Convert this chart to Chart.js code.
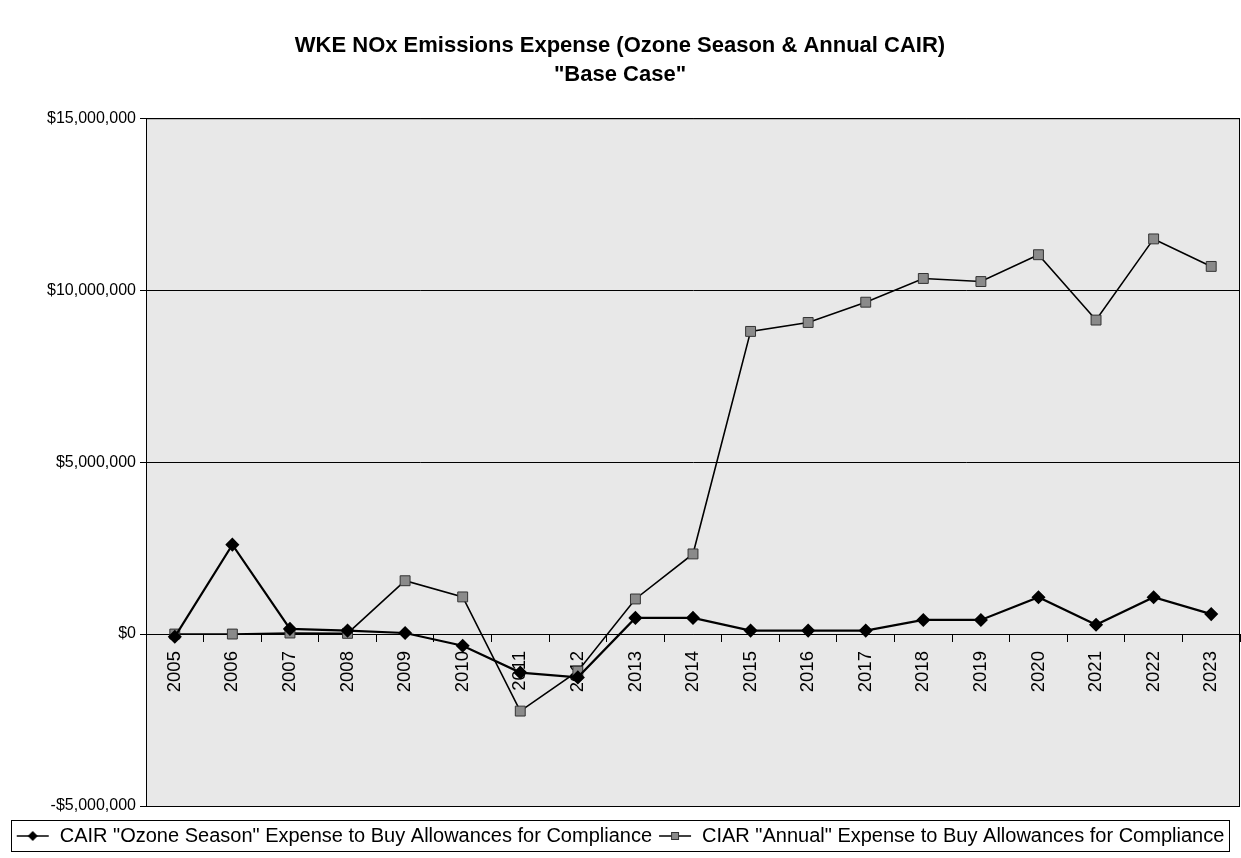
<!DOCTYPE html>
<html>
<head>
<meta charset="utf-8">
<script src="https://cdn.jsdelivr.net/npm/chart.js@4.4.1/dist/chart.umd.min.js"></script>
<style>
  html, body { margin: 0; padding: 0; background: #fff; }
</style>
</head>
<body>
<canvas id="chart" width="1241" height="858"></canvas>
<script>
// data
const years = ['2005', '2006', '2007', '2008', '2009', '2010', '2011', '2012', '2013', '2014',
               '2015', '2016', '2017', '2018', '2019', '2020', '2021', '2022', '2023'];
const ozoneSeason = [-80000, 2600000, 150000, 100000, 30000, -340000, -1120000, -1260000, 470000, 470000,
                     100000, 100000, 100000, 410000, 410000, 1070000, 270000, 1070000, 580000];
const annualCair = [0, 0, 30000, 20000, 1550000, 1080000, -2240000, -1080000, 1020000, 2330000,
                    8800000, 9060000, 9650000, 10340000, 10250000, 11030000, 9130000, 11490000, 10690000];
const yTicks = [-5000000, 0, 5000000, 10000000, 15000000];

const seriesNames = [
    'CAIR "Ozone Season" Expense to Buy Allowances for Compliance',
    'CIAR "Annual" Expense to Buy Allowances for Compliance'
];

function money(v) {
    const s = '$' + Math.abs(v).toLocaleString('en-US');
    return v < 0 ? '-' + s : s;
}

// little line+marker pictures for the legend
function legendIcon(kind) {
    const c = document.createElement('canvas');
    c.width = 34; c.height = 16;
    const g = c.getContext('2d');
    g.strokeStyle = '#000';
    g.lineWidth = 1.5;
    g.beginPath(); g.moveTo(1, 8); g.lineTo(33, 8); g.stroke();
    if (kind === 'diamond') {
        g.fillStyle = '#000';
        g.beginPath(); g.moveTo(17, 3); g.lineTo(22, 8); g.lineTo(17, 13); g.lineTo(12, 8); g.closePath(); g.fill();
    } else {
        g.fillStyle = '#8a8a8a';
        g.fillRect(13, 4, 8, 8);
        g.lineWidth = 1;
        g.strokeStyle = '#333';
        g.strokeRect(13.5, 4.5, 7, 7);
    }
    return c;
}
const icons = [legendIcon('diamond'), legendIcon('square')];

const framePlugin = {
    id: 'frame',
    beforeDraw(chart) {
        const { ctx, chartArea: a } = chart;
        ctx.save();
        ctx.fillStyle = '#e8e8e8';
        ctx.fillRect(a.left, a.top, a.right - a.left, a.bottom - a.top);
        ctx.restore();
    },
    afterDraw(chart) {
        const { ctx, chartArea: a, legend } = chart;
        ctx.save();
        ctx.strokeStyle = '#000';
        ctx.lineWidth = 1;
        ctx.strokeRect(a.left + 0.5, a.top + 0.5, a.right - a.left - 1, a.bottom - a.top);
        const boxes = legend.legendHitBoxes;
        if (boxes && boxes.length) {
            const l = Math.min(...boxes.map(b => b.left)) - 5;
            const r = Math.max(...boxes.map(b => b.left + b.width)) + 4;
            const t = Math.min(...boxes.map(b => b.top)) - 6;
            const btm = Math.max(...boxes.map(b => b.top + b.height)) + 5;
            ctx.strokeRect(Math.round(l) + 0.5, Math.round(t) + 0.5, Math.round(r - l), Math.round(btm - t));
        }
        ctx.restore();
    }
};

new Chart(document.getElementById('chart'), {
    type: 'line',
    data: {
        labels: years,
        datasets: [{
            label: seriesNames[0],
            data: ozoneSeason,
            borderColor: '#000',
            borderWidth: 2.2,
            pointStyle: 'rectRot',
            pointRadius: 5.5,
            pointBackgroundColor: '#000',
            pointBorderColor: '#000',
            tension: 0
        }, {
            label: seriesNames[1],
            data: annualCair,
            borderColor: '#000',
            borderWidth: 1.6,
            pointStyle: 'rect',
            pointRadius: 7,
            pointBackgroundColor: '#8a8a8a',
            pointBorderColor: '#333',
            pointBorderWidth: 1,
            tension: 0
        }]
    },
    options: {
        responsive: false,
        animation: false,
        devicePixelRatio: 1,
        layout: { autoPadding: false, padding: { left: 0, right: 1, top: 0, bottom: 2 } },
        plugins: {
            title: {
                display: true,
                text: ['WKE NOx Emissions Expense (Ozone Season & Annual CAIR)', '"Base Case"'],
                color: '#000',
                font: { family: 'Liberation Sans, Arial, sans-serif', size: 22, weight: 'bold', lineHeight: 1.3 },
                padding: { top: 32, bottom: 29 }
            },
            legend: {
                position: 'bottom',
                // blank legend title only reserves room between plot and legend row
                title: { display: true, text: ' ', padding: 0, font: { size: 10, lineHeight: 1.4 } },
                labels: {
                    usePointStyle: true,
                    pointStyleWidth: 34,
                    color: '#000',
                    padding: 6,
                    font: { family: 'Liberation Sans, Arial, sans-serif', size: 20 },
                    generateLabels(chart) {
                        return chart.data.datasets.map((ds, i) => ({
                            text: ds.label,
                            pointStyle: icons[i],
                            fillStyle: '#000',
                            strokeStyle: '#000',
                            lineWidth: 0,
                            fontColor: '#000',
                            datasetIndex: i,
                            hidden: false
                        }));
                    }
                }
            },
            tooltip: { enabled: false }
        },
        scales: {
            x: {
                type: 'category',
                position: { y: 0 },
                offset: true,
                afterFit(s) { s.height = 0; s.paddingLeft = 0; s.paddingRight = 0; },
                grid: { offset: true, drawOnChartArea: false, drawTicks: true, tickLength: 7, color: '#000' },
                border: { display: true, color: '#000', width: 1 },
                ticks: {
                    color: '#000',
                    minRotation: 90,
                    maxRotation: 90,
                    padding: 10,
                    font: { family: 'Liberation Sans, Arial, sans-serif', size: 18.5 }
                }
            },
            y: {
                min: yTicks[0],
                max: yTicks[yTicks.length - 1],
                afterFit(s) { s.width = 146; },
                afterBuildTicks(s) { s.ticks = yTicks.map(v => ({ value: v })); },
                grid: { color: '#000', lineWidth: 1, tickLength: 6 },
                border: { display: true, color: '#000', width: 1 },
                ticks: {
                    color: '#000',
                    padding: 4,
                    font: { family: 'Liberation Sans, Arial, sans-serif', size: 16 },
                    callback: v => money(v)
                }
            }
        }
    },
    plugins: [framePlugin]
});
</script>
</body>
</html>
